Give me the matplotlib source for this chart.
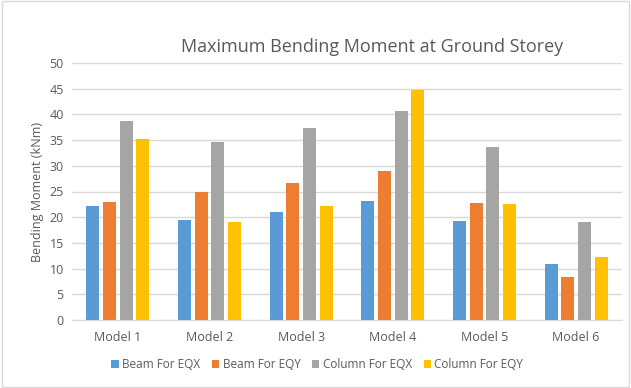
import matplotlib.pyplot as plt
import numpy as np

models = ['Model 1', 'Model 2', 'Model 3', 'Model 4', 'Model 5', 'Model 6']
beam_eqx = [22.1, 19.4, 21.1, 23.2, 19.3, 10.9]
beam_eqy = [23.0, 24.9, 26.6, 29.0, 22.7, 8.3]
column_eqx = [38.7, 34.6, 37.4, 40.7, 33.6, 19.0]
column_eqy = [35.3, 19.1, 22.1, 44.8, 22.6, 12.2]

series = [
    ('Beam For EQX', beam_eqx, '#5B9BD5'),
    ('Beam For EQY', beam_eqy, '#ED7D31'),
    ('Column For EQX', column_eqx, '#A5A5A5'),
    ('Column For EQY', column_eqy, '#FFC000'),
]

plt.rcParams['font.family'] = ['Open Sans', 'DejaVu Sans']
text_col = '#595959'

fig = plt.figure(figsize=(6.31, 3.88), dpi=100)
ax = fig.add_axes([72 / 631, 1 - 320 / 388, 550 / 631, 257 / 388])

x = np.arange(len(models))
step = 0.182
width = 0.139
for i, (name, vals, col) in enumerate(series):
    ax.bar(x + (i - 1.5) * step, vals, width, color=col, label=name, zorder=3)

ax.set_xlim(-0.5, len(models) - 0.5)
ax.set_ylim(0, 50)
ax.set_yticks(range(0, 51, 5))
ax.set_xticks(x)
ax.set_xticklabels(models)
ax.grid(axis='y', color='#d9d9d9', linewidth=1, zorder=0)
for s in ['top', 'right', 'left']:
    ax.spines[s].set_visible(False)
ax.spines['bottom'].set_color('#d9d9d9')
ax.tick_params(axis='both', length=0, labelsize=9, colors=text_col)
ax.tick_params(axis='x', pad=8)
ax.tick_params(axis='y', pad=6)

ax.set_ylabel('Bending Moment (kNm)', fontsize=9, color=text_col, labelpad=4)
fig.text(0.589, 0.88, 'Maximum Bending Moment at Ground Storey',
         ha='center', va='center', fontsize=13, color=text_col)

# legend sits centred under the whole figure, not just the axes
fig.legend(loc='center', bbox_to_anchor=(0.503, 0.06), ncol=4, frameon=False,
           fontsize=8.5, labelcolor=text_col, handlelength=0.6, handleheight=0.6,
           handletextpad=0.3, columnspacing=1.0)

fig.patches.append(plt.Rectangle((0.003, 0.003), 0.994, 0.994, transform=fig.transFigure,
                                 fill=False, edgecolor='#d9d9d9', linewidth=1))

fig.savefig('out.png', dpi=100)
